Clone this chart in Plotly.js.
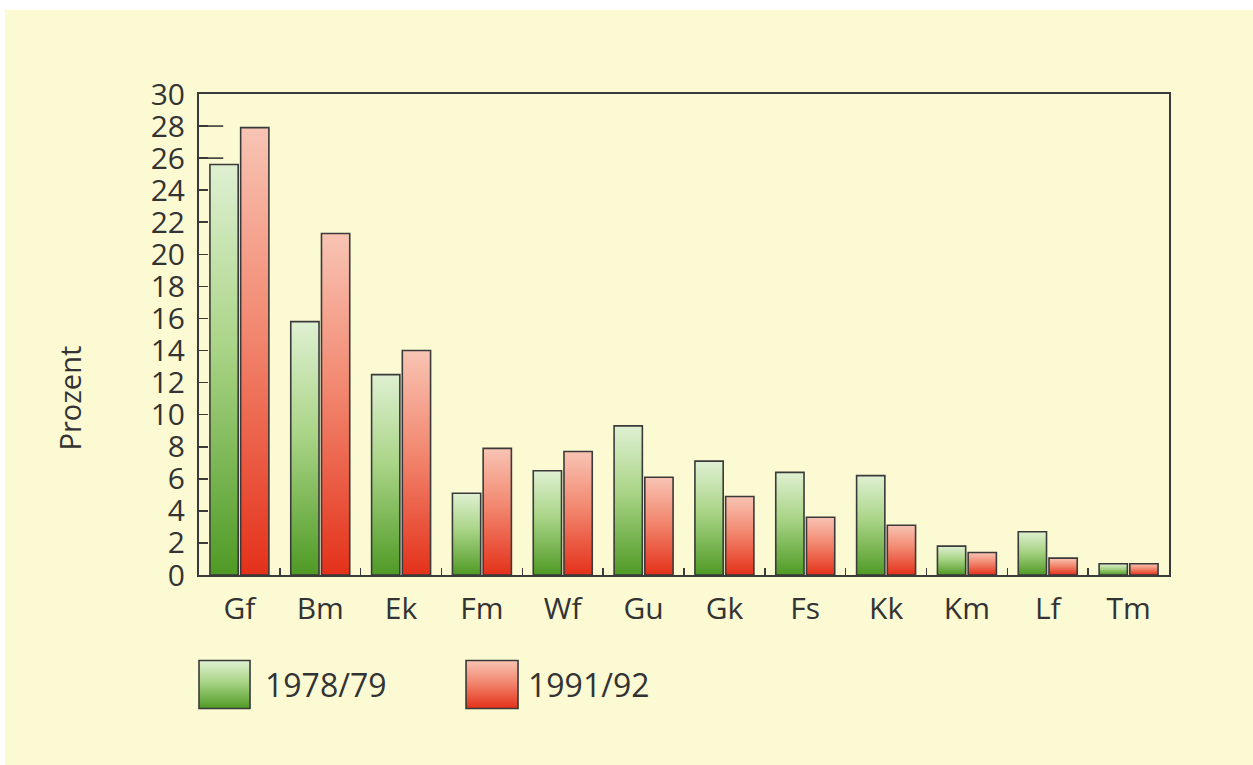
<!DOCTYPE html>
<html>
<head>
<meta charset="utf-8">
<script src="https://cdn.plot.ly/plotly-3.0.1.min.js"></script>
<style>
  html, body { margin: 0; padding: 0; background: #ffffff; }
  #chart { position: absolute; left: 5px; top: 10px; width: 1248px; height: 755px; }
</style>
</head>
<body>
<div id="chart"></div>
<script>
const categories = ["Gf", "Bm", "Ek", "Fm", "Wf", "Gu", "Gk", "Fs", "Kk", "Km", "Lf", "Tm"];
const seriesNames = ["1978/79", "1991/92"];
const values1978 = [25.6, 15.8, 12.5, 5.1, 6.5, 9.3, 7.1, 6.4, 6.2, 1.8, 2.7, 0.7];
const values1991 = [27.9, 21.3, 14.0, 7.9, 7.7, 6.1, 4.9, 3.6, 3.1, 1.4, 1.05, 0.7];
const yTicks = [0, 2, 4, 6, 8, 10, 12, 14, 16, 18, 20, 22, 24, 26, 28, 30];

const gradStops = [
  [["0", "#dff0d2"], ["0.45", "#a9d486"], ["1", "#4f9a25"]],
  [["0", "#f8c4b4"], ["0.45", "#f28870"], ["1", "#e4311a"]]
];
const midColors = ["#8cc266", "#ee6a52"];
const edge = "#3a3a3a";
const textColor = "#333333";
const fontFam = "'Open Sans', 'Noto Sans', sans-serif";

const traces = [values1978, values1991].map((vals, i) => ({
  type: "bar",
  x: categories,
  y: vals,
  name: seriesNames[i],
  marker: { color: midColors[i], line: { color: edge, width: 1.6 } },
  hoverinfo: "x+y+name"
}));

const layout = {
  width: 1248,
  height: 755,
  margin: { l: 194, r: 84, t: 84, b: 190 },
  paper_bgcolor: "#fcfad3",
  plot_bgcolor: "#fcfad3",
  showlegend: false,
  barmode: "group",
  bargap: 0.24,
  bargroupgap: 0.08,
  font: { family: fontFam, color: textColor },
  xaxis: {
    type: "category",
    tickson: "boundaries",
    ticks: "inside",
    ticklen: 7,
    tickwidth: 1.6,
    tickcolor: edge,
    showline: true,
    linecolor: edge,
    linewidth: 2,
    mirror: true,
    showgrid: false,
    zeroline: false,
    tickfont: { size: 30, color: textColor, family: fontFam },
    ticklabelstandoff: 6
  },
  yaxis: {
    range: [0, 30],
    tickvals: yTicks,
    ticktext: yTicks.map(String),
    ticks: "inside",
    ticklen: 9,
    tickwidth: 1.6,
    tickcolor: edge,
    showline: true,
    linecolor: edge,
    linewidth: 2,
    mirror: true,
    showgrid: false,
    zeroline: false,
    tickfont: { size: 30, color: textColor, family: fontFam },
    ticklabelstandoff: 6
  },
  shapes: [
    { type: "line", xref: "paper", yref: "y", x0: 0, x1: 0.025, y0: 26, y1: 26, line: { color: edge, width: 1.6 } },
    { type: "line", xref: "paper", yref: "y", x0: 0, x1: 0.025, y0: 28, y1: 28, line: { color: edge, width: 1.6 } },
    { type: "rect", xref: "paper", yref: "paper", x0: 0, x1: 0.0526, y0: -0.1777, y1: -0.2775, fillcolor: midColors[0], line: { color: edge, width: 1.6 } },
    { type: "rect", xref: "paper", yref: "paper", x0: 0.2753, x1: 0.3289, y0: -0.1777, y1: -0.2775, fillcolor: midColors[1], line: { color: edge, width: 1.6 } }
  ],
  annotations: [
    { text: "Prozent", xref: "paper", yref: "paper", x: -0.134, y: 0.367, textangle: -90, showarrow: false, font: { size: 29, color: textColor, family: fontFam }, xanchor: "center", yanchor: "middle" },
    { text: seriesNames[0], xref: "paper", yref: "paper", x: 0.066, y: -0.2277, showarrow: false, font: { size: 32, color: textColor, family: fontFam }, xanchor: "left", yanchor: "middle" },
    { text: seriesNames[1], xref: "paper", yref: "paper", x: 0.337, y: -0.2277, showarrow: false, font: { size: 32, color: textColor, family: fontFam }, xanchor: "left", yanchor: "middle" }
  ]
};

function applyGradients(gd) {
  const svg = gd.querySelector(".main-svg");
  if (!svg) return;
  const NS = "http://www.w3.org/2000/svg";
  let defs = svg.querySelector("defs");
  if (!defs) { defs = document.createElementNS(NS, "defs"); svg.insertBefore(defs, svg.firstChild); }
  gradStops.forEach((stops, i) => {
    const id = "barGrad" + i;
    if (svg.querySelector("#" + id)) return;
    const lg = document.createElementNS(NS, "linearGradient");
    lg.setAttribute("id", id);
    lg.setAttribute("x1", "0"); lg.setAttribute("y1", "0");
    lg.setAttribute("x2", "0"); lg.setAttribute("y2", "1");
    stops.forEach(([off, col]) => {
      const s = document.createElementNS(NS, "stop");
      s.setAttribute("offset", off);
      s.setAttribute("stop-color", col);
      lg.appendChild(s);
    });
    defs.appendChild(lg);
  });
  gd.querySelectorAll(".barlayer .trace").forEach((tr, i) => {
    tr.querySelectorAll("path").forEach(p => { p.style.fill = "url(#barGrad" + i + ")"; p.style.fillOpacity = 1; });
  });
  gd.querySelectorAll(".shapelayer path").forEach(p => {
    const idx = p.getAttribute("data-index");
    if (idx === "2") { p.style.fill = "url(#barGrad0)"; p.style.fillOpacity = 1; }
    if (idx === "3") { p.style.fill = "url(#barGrad1)"; p.style.fillOpacity = 1; }
  });
}

const gd = document.getElementById("chart");
Plotly.newPlot(gd, traces, layout, { displayModeBar: false, staticPlot: true }).then(() => {
  applyGradients(gd);
  gd.on("plotly_afterplot", () => applyGradients(gd));
});
</script>
</body>
</html>
